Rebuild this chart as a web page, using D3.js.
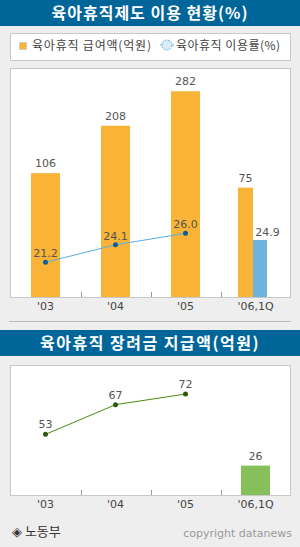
<!DOCTYPE html>
<html>
<head>
<meta charset="utf-8">
<script src="https://cdn.jsdelivr.net/npm/d3@7"></script>
<style>
  body { margin: 0; background: #eeeeee; }
  svg { display: block; font-family: "Noto Sans CJK KR", "Noto Sans", sans-serif; }
  .val { font-size: 11px; fill: #555; text-anchor: middle; font-family: "DejaVu Sans", sans-serif; }
  .tick-label { font-size: 11px; fill: #444; text-anchor: middle; font-family: "DejaVu Sans", sans-serif; }
</style>
</head>
<body>
<div id="chart"></div>
<script>
// data
var years = ["'03", "'04", "'05", "'06,1Q"];
var leaveAmount = [106, 208, 282, 75];          // 육아휴직 급여액(억원)
var leaveRate = [21.2, 24.1, 26.0];             // 육아휴직 이용률(%) '03-'05
var leaveRateQ = 24.9;                          // '06,1Q
var bonusAmount = [53, 67, 72];                 // 장려금 '03-'05
var bonusAmountQ = 26;                          // '06,1Q

var W = 300, H = 547;
var orange = '#f9b336', blue = '#6cb4dc', dotBlue = '#0d5c99';
var green = '#4b8a12', dotGreen = '#2f5a0c', barGreen = '#86c05a';

var svg = d3.select('#chart').append('svg')
    .attr('width', W)
    .attr('height', H);

svg.append('rect').attr('width', W).attr('height', H).attr('fill', '#eeeeee');

function titleBar(y, h, text, spacing) {
    svg.append('rect').attr('x', 0).attr('y', y).attr('width', W).attr('height', h).attr('fill', '#006699');
    svg.append('text')
        .attr('x', W / 2).attr('y', y + h / 2 + 6)
        .attr('text-anchor', 'middle')
        .attr('fill', '#fff')
        .attr('font-size', '16px')
        .attr('font-weight', 'bold')
        .attr('letter-spacing', spacing)
        .text(text);
}

function panel(y0, y1) {
    svg.append('rect')
        .attr('x', 10.5).attr('y', y0 + 0.5)
        .attr('width', 280).attr('height', y1 - y0)
        .attr('fill', '#fff').attr('stroke', '#c8c8c8');
}

// shared band scale
var x = d3.scaleBand().domain(years).range([10.5, 290.5]).padding(0);
var bw = 29;
var cx = d => x(d) + x.bandwidth() / 2;

function axis(yBase) {
    var g = svg.append('g').attr('transform', `translate(0, ${yBase})`);
    var ax = d3.axisBottom(x).tickSize(0).tickSizeOuter(0);
    g.call(ax);
    g.select('.domain').attr('stroke', '#c8c8c8');
    g.selectAll('.tick text')
        .attr('class', 'tick-label')
        .attr('dy', null)
        .attr('y', 13)
        .attr('font-size', null).attr('font-family', null).attr('fill', null);
    g.selectAll('.tick line').remove();
    // inner ticks between categories
    g.selectAll('.sep')
        .data(years.slice(1))
        .enter().append('line')
        .attr('x1', d => Math.round(x(d)) + 0.5).attr('x2', d => Math.round(x(d)) + 0.5)
        .attr('y1', -5).attr('y2', 0)
        .attr('stroke', '#999');
}

// ---- chart 1 ----
titleBar(0, 26, '육아휴직제도 이용 현황(%)', '1px');

// legend
svg.append('rect').attr('x', 10.5).attr('y', 33.5).attr('width', 280).attr('height', 27)
    .attr('fill', '#fff').attr('stroke', '#c8c8c8');
svg.append('rect').attr('x', 19.5).attr('y', 42.5).attr('width', 7).attr('height', 7)
    .attr('fill', orange).attr('stroke', '#ccc');
svg.append('text').attr('x', 32).attr('y', 50).attr('font-size', '12px').attr('fill', '#444')
    .attr('letter-spacing', '0.8px')
    .text('육아휴직 급여액(억원)');
svg.append('line').attr('x1', 160).attr('x2', 174).attr('y1', 45).attr('y2', 45)
    .attr('stroke', '#6cb4dc');
svg.append('circle').attr('cx', 167).attr('cy', 45).attr('r', 5)
    .attr('fill', '#d9ecf8').attr('stroke', '#6cb4dc').attr('stroke-dasharray', '2,1');
svg.append('text').attr('x', 176).attr('y', 50).attr('font-size', '12px').attr('fill', '#444')
    .attr('letter-spacing', '0.5px')
    .text('육아휴직 이용률(%)');

var top1 = 68, base1 = 297;
panel(top1, base1);

var yBar1 = d3.scaleLinear().domain([-160, 332]).range([base1, top1]);
var yLine1 = d3.scaleLinear().domain([15.45, 53.4]).range([base1, top1]);

var bars1 = leaveAmount.map((v, i) => ({ year: years[i], v: v }));

svg.selectAll('.bar1')
    .data(bars1)
    .enter().append('rect')
    .attr('class', 'bar1')
    .attr('x', (d, i) => i < 3 ? cx(d.year) - bw / 2 : cx(d.year) - 17.5)
    .attr('y', d => yBar1(d.v))
    .attr('width', (d, i) => i < 3 ? bw : 15)
    .attr('height', d => base1 - yBar1(d.v))
    .attr('fill', orange);

svg.selectAll('.lab1')
    .data(bars1)
    .enter().append('text')
    .attr('class', 'val')
    .attr('x', (d, i) => i < 3 ? cx(d.year) : cx(d.year) - 10)
    .attr('y', d => yBar1(d.v) - 6)
    .text(d => d.v);

// 1Q rate bar
svg.append('rect')
    .attr('x', cx(years[3]) - 2.5).attr('y', yLine1(leaveRateQ))
    .attr('width', 14).attr('height', base1 - yLine1(leaveRateQ))
    .attr('fill', blue);
svg.append('text').attr('class', 'val')
    .attr('x', cx(years[3]) + 12).attr('y', yLine1(leaveRateQ) - 4)
    .text(leaveRateQ.toFixed(1));

var rate = leaveRate.map((v, i) => ({ year: years[i], v: v }));
svg.append('path')
    .datum(rate)
    .attr('fill', 'none')
    .attr('stroke', '#5aaee0')
    .attr('stroke-width', 1)
    .attr('d', d3.line().x(d => cx(d.year)).y(d => yLine1(d.v)));
svg.selectAll('.dot1')
    .data(rate)
    .enter().append('circle')
    .attr('cx', d => cx(d.year)).attr('cy', d => yLine1(d.v)).attr('r', 2.5)
    .attr('fill', dotBlue);
svg.selectAll('.rlab')
    .data(rate)
    .enter().append('text')
    .attr('class', 'val')
    .attr('x', d => cx(d.year)).attr('y', d => yLine1(d.v) - 5)
    .text(d => d.v.toFixed(1));

axis(base1);

svg.append('line').attr('x1', 9).attr('x2', 291).attr('y1', 321.5).attr('y2', 321.5)
    .attr('stroke', '#bbb');

// ---- chart 2 ----
titleBar(330, 26, '육아휴직 장려금 지급액(억원)', '1.5px');

var top2 = 365, base2 = 495;
panel(top2, base2);

var yLine2 = d3.scaleLinear().domain([24.4, 85.7]).range([base2, top2]);
var yBar2 = d3.scaleLinear().domain([0, 115]).range([base2, top2]);

var bonus = bonusAmount.map((v, i) => ({ year: years[i], v: v }));
svg.append('path')
    .datum(bonus)
    .attr('fill', 'none')
    .attr('stroke', green)
    .attr('d', d3.line().x(d => cx(d.year)).y(d => yLine2(d.v)));
svg.selectAll('.dot2')
    .data(bonus)
    .enter().append('circle')
    .attr('cx', d => cx(d.year)).attr('cy', d => yLine2(d.v)).attr('r', 2.5)
    .attr('fill', dotGreen);
svg.selectAll('.blab')
    .data(bonus)
    .enter().append('text')
    .attr('class', 'val')
    .attr('x', d => cx(d.year)).attr('y', d => yLine2(d.v) - 6)
    .text(d => d.v);

svg.append('rect')
    .attr('x', cx(years[3]) - bw / 2).attr('y', yBar2(bonusAmountQ))
    .attr('width', bw).attr('height', base2 - yBar2(bonusAmountQ))
    .attr('fill', barGreen);
svg.append('text').attr('class', 'val')
    .attr('x', cx(years[3])).attr('y', yBar2(bonusAmountQ) - 6)
    .text(bonusAmountQ);

axis(base2);

// footer
svg.append('text').attr('x', 12).attr('y', 536).attr('font-size', '13px').attr('fill', '#333')
    .text('◈ 노동부');
svg.append('text').attr('x', 292).attr('y', 537).attr('text-anchor', 'end')
    .attr('font-size', '11px').attr('fill', '#999').attr('font-family', 'DejaVu Sans, sans-serif')
    .text('copyright datanews');
</script>
</body>
</html>
